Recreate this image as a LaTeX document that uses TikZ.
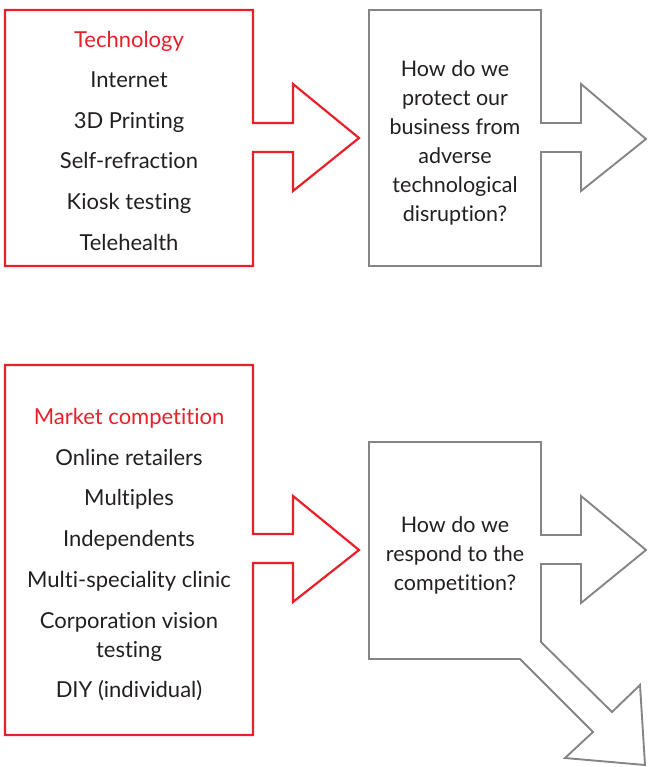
\documentclass[tikz,border=0pt]{standalone}
\usepackage{fontspec}
\setmainfont{Lato}[Ligatures={NoCommon}]
\definecolor{redc}{HTML}{E8202A}
\definecolor{greyc}{HTML}{858585}
\definecolor{textc}{HTML}{231F20}
\begin{document}
\begin{tikzpicture}[x=1pt,y=-1pt,
  redline/.style={draw=redc,line width=2.2pt,line join=miter},
  greyline/.style={draw=greyc,line width=1.9pt,line join=miter},
  item/.style={text=textc,font=\fontsize{22}{26}\selectfont,inner sep=0pt,anchor=base},
  head/.style={item,text=redc},
  qline/.style={item,font=\fontsize{21.5}{26}\selectfont}]
\useasboundingbox (0,0) rectangle (647,767);
% top red
\draw[redline] (5,10) -- (253,10) -- (253,123) -- (293,123) -- (293,84) -- (359,138) -- (293,191) -- (293,152) -- (253,152) -- (253,266) -- (5,266) -- cycle;
% top grey
\draw[greyline] (369,10) -- (541,10) -- (541,123) -- (581,123) -- (581,84) -- (646,139) -- (581,191) -- (581,152) -- (541,152) -- (541,266) -- (369,266) -- cycle;
% bottom red
\draw[redline] (5,365) -- (253,365) -- (253,534) -- (293,534) -- (293,496) -- (359,550) -- (293,602) -- (293,563) -- (253,563) -- (253,735) -- (5,735) -- cycle;
% bottom grey
\draw[greyline] (369,442) -- (541,442) -- (541,535) -- (581,535) -- (581,496) -- (646,550) -- (581,603) -- (581,564) -- (541,564) -- (541,642) -- (612,712) -- (640,685) -- (645,765) -- (565,758) -- (593,732) -- (520,659) -- (369,659) -- cycle;
% top texts
\node[head] (t0) at (129,48) {Technology};
\node[item] (t1) at (129,88) {Internet};
\node[item] (t2) at (129,129) {3D Printing};
\node[item] (t3) at (129,169) {Self-refraction};
\node[item] (t4) at (129,210) {Kiosk testing};
\node[item] (t5) at (129,250) {Telehealth};
% bottom texts
\node[head] (m0) at (129,424) {Market competition};
\node[item] (m1) at (129,465) {Online retailers};
\node[item] (m2) at (129,505) {Multiples};
\node[item] (m3) at (129,546) {Independents};
\node[item] (m4) at (129,587) {Multi-speciality clinic};
\node[item] (m5) at (129,628) {Corporation vision};
\node[item] (m6) at (129,657) {testing};
\node[item] (m7) at (129,697) {DIY (individual)};
% questions
\node[qline] (q1) at (455,77) {How do we};
\node[qline] (q2) at (455,106) {protect our};
\node[qline] (q3) at (455,135) {business from};
\node[qline] (q4) at (455,164) {adverse};
\node[qline] (q5) at (455,193) {technological};
\node[qline] (q6) at (455,222) {disruption?};
\node[qline] (r1) at (455,532) {How do we};
\node[qline] (r2) at (455,561) {respond to the};
\node[qline] (r3) at (455,590) {competition?};
\end{tikzpicture}
\end{document}
